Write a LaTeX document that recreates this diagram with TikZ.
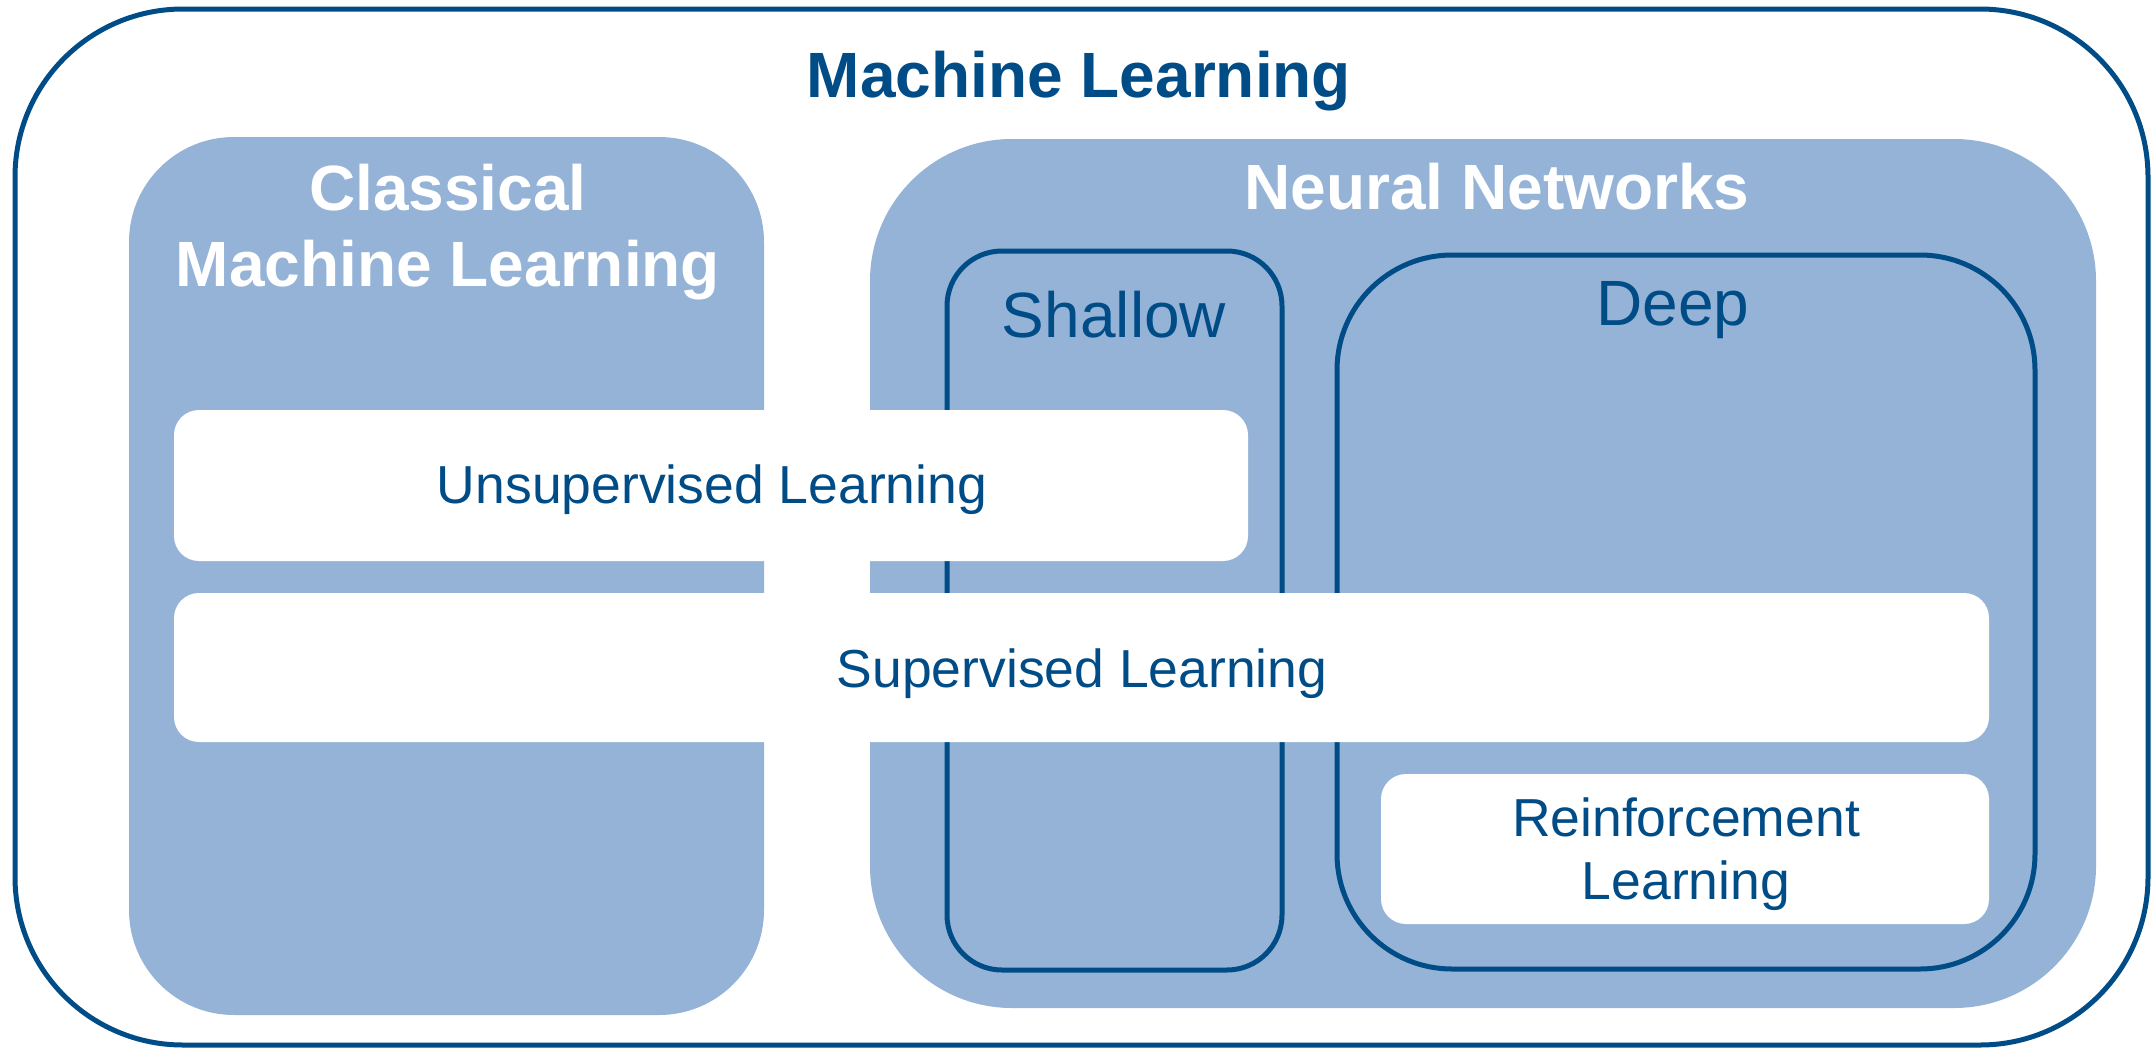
\documentclass[tikz,border=0pt]{standalone}
\usepackage{fontspec}
\setmainfont{Liberation Sans}
\definecolor{dblue}{RGB}{0,76,135}
\definecolor{lblue}{RGB}{149,179,215}
\begin{document}
\begin{tikzpicture}[x=1pt,y=-1pt,
  frame/.style={draw=dblue, line width=5pt},
  group/.style={fill=lblue},
  sub/.style={draw=dblue, line width=5pt},
  learnbox/.style={fill=white, rounded corners=25pt},
  bigtitle/.style={font=\fontsize{64}{76}\selectfont\bfseries, text=dblue, inner sep=0pt, anchor=base},
  grouptitle/.style={font=\fontsize{64}{76}\selectfont\bfseries, text=white, inner sep=0pt, align=center},
  subtitle/.style={font=\fontsize{64}{72}\selectfont, text=dblue, inner sep=0pt, anchor=base},
  learntext/.style={font=\fontsize{53.5}{63}\selectfont, text=dblue, inner sep=0pt, align=center}]
\useasboundingbox (0,0) rectangle (2152,1047);
\fill[white] (0,0) rectangle (2152,1047);
% outer frame
\draw[frame, rounded corners=168pt] (15,9) rectangle (2148,1045);
% groups
\fill[group, rounded corners=105pt] (129,137) rectangle (764,1015);
\fill[group, rounded corners=142pt] (870,139) rectangle (2096,1008);
% shallow / deep
\draw[sub, rounded corners=55pt] (947,251) rectangle (1282,970);
\draw[sub, rounded corners=115pt] (1337,255) rectangle (2035,969);
% learning boxes
\fill[learnbox] (174,410) rectangle (1248,561);
\fill[learnbox] (174,593) rectangle (1989,742);
\fill[learnbox] (1381,774) rectangle (1989,924);
% texts
\node[bigtitle] (ml) at (1079,97) {Machine Learning};
\node[grouptitle] (cml) at (448,232) {Classical\\Machine Learning};
\node[bigtitle, text=white] (nn) at (1497,209) {Neural Networks};
\node[subtitle] (shallow) at (1114,337) {Shallow};
\node[subtitle] (deep) at (1673,325) {Deep};
\node[learntext, anchor=base] (unsup) at (712,503) {Unsupervised Learning};
\node[learntext, anchor=base] (sup) at (1082,687) {Supervised Learning};
\node[learntext] (rl) at (1686,854) {Reinforcement\\Learning};
\end{tikzpicture}
\end{document}
